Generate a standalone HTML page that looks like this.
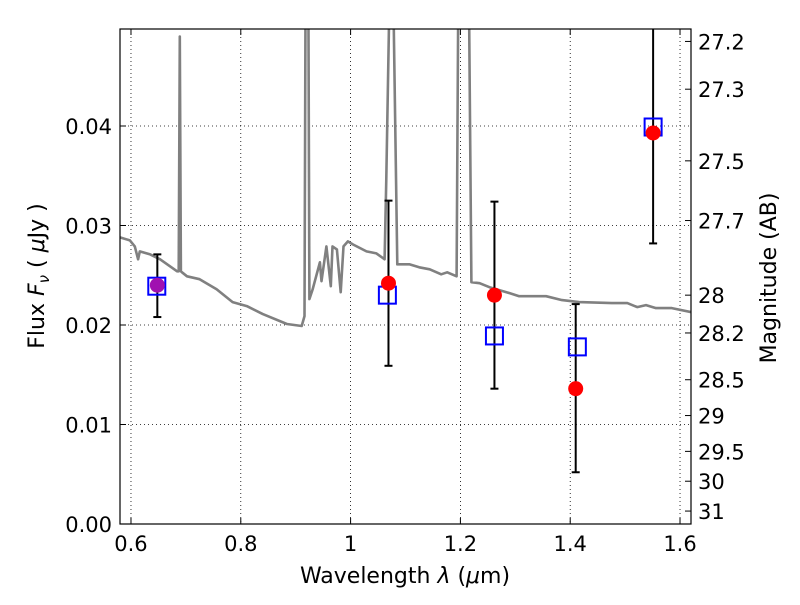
<!DOCTYPE html>
<html><head><meta charset="utf-8"><style>
html,body{margin:0;padding:0;background:#fff;}
svg text{font-family:"DejaVu Sans","Liberation Sans",sans-serif;fill:#000;}
</style></head><body>
<svg id="chart" width="800" height="600" viewBox="0 0 800 600">
<defs><clipPath id="plotclip"><rect x="120" y="29" width="571" height="495"/></clipPath></defs>
<rect x="0" y="0" width="800" height="600" fill="#fff"/>
<g id="grid"></g>
<g id="spec" clip-path="url(#plotclip)"></g>
<g id="marks"></g>
<rect x="120" y="29" width="571" height="495" fill="none" stroke="#000" stroke-width="1.2"/>
<g id="axes"></g>
<text x="405" y="583" font-size="22" text-anchor="middle">Wavelength  <tspan font-style="italic">λ</tspan> (<tspan font-style="italic">μ</tspan>m)</text>
<text transform="translate(44,276) rotate(-90)" font-size="22" text-anchor="middle">Flux  <tspan font-style="italic">F</tspan><tspan font-style="italic" font-size="15" dy="5">ν</tspan><tspan dy="-5">  (  </tspan><tspan font-style="italic">μ</tspan>Jy )</text>
<text transform="translate(776,278) rotate(-90)" font-size="22" text-anchor="middle">Magnitude (AB)</text>
</svg>
<script>
const xTicks=[0.6,0.8,1.0,1.2,1.4,1.6];
const xTickLabels=["0.6","0.8","1","1.2","1.4","1.6"];
const yTicks=[0,0.01,0.02,0.03,0.04];
const yTickLabels=["0.00","0.01","0.02","0.03","0.04"];
const magLabels=["27.2","27.3","27.5","27.7","28","28.2","28.5","29","29.5","30","31"];
const magFlux=[0.0485,0.0437,0.0365,0.0305,0.0230,0.0192,0.0145,0.0109,0.0073,0.0043,0.0013];
const bands=[0.648,1.069,1.262,1.41,1.551];
const obsFlux=[0.0240,0.0242,0.0230,0.0136,0.0393];
const errLow=[0.0208,0.0159,0.0136,0.0052,0.0282];
const errHigh=[0.0271,0.0325,0.0324,0.0221,0.0560];
const modelBands=[0.647,1.067,1.262,1.413,1.551];
const modelFlux=[0.0239,0.0230,0.0189,0.0178,0.0399];
const specWave=[0.580,0.598,0.607,0.613,0.616,0.635,0.653,0.671,0.684,0.687,0.689,0.691,0.693,0.702,0.725,0.756,0.785,0.811,0.840,0.884,0.911,0.916,0.919,0.922,0.925,0.931,0.944,0.947,0.956,0.964,0.967,0.975,0.982,0.987,0.995,1.004,1.029,1.047,1.062,1.065,1.073,1.076,1.085,1.107,1.125,1.144,1.165,1.176,1.193,1.198,1.213,1.220,1.235,1.253,1.284,1.307,1.356,1.385,1.416,1.476,1.504,1.522,1.538,1.556,1.585,1.620];
const specFlux=[0.0288,0.0285,0.0279,0.0266,0.0274,0.0271,0.0266,0.0259,0.0254,0.0254,0.0490,0.0254,0.0253,0.0249,0.0246,0.0236,0.0223,0.0219,0.0211,0.0201,0.0199,0.0209,0.0700,0.0700,0.0226,0.0236,0.0263,0.0244,0.0279,0.0239,0.0279,0.0276,0.0233,0.0279,0.0284,0.0281,0.0274,0.0272,0.0266,0.0347,0.0600,0.0600,0.0261,0.0261,0.0258,0.0256,0.0251,0.0253,0.0249,0.0700,0.0700,0.0243,0.0242,0.0238,0.0233,0.0229,0.0229,0.0225,0.0223,0.0222,0.0222,0.0218,0.0220,0.0217,0.0217,0.0213];
const X0=120,X1=691,Y0=524,Y1=29,XMIN=0.58,XMAX=1.62,YMIN=0,YMAX=0.04975;
function sx(v){return X0+(v-XMIN)/(XMAX-XMIN)*(X1-X0);}
function sy(v){return Y0-(v-YMIN)/(YMAX-YMIN)*(Y0-Y1);}
const NS="http://www.w3.org/2000/svg";
function mk(tag,attrs,parent){const e=document.createElementNS(NS,tag);for(const k in attrs)e.setAttribute(k,attrs[k]);parent.appendChild(e);return e;}
const grid=document.getElementById('grid'),axes=document.getElementById('axes'),spec=document.getElementById('spec'),marks=document.getElementById('marks');
xTicks.forEach((t,i)=>{const x=sx(t);
 let g=mk('line',{x1:x,x2:x,y1:Y1,y2:Y0,stroke:'#000','stroke-width':0.8,'stroke-dasharray':'1,3'},grid);
 
 
 mk('line',{x1:x,x2:x,y1:Y0,y2:Y0-6,stroke:'#000','stroke-width':1},axes);
 mk('line',{x1:x,x2:x,y1:Y1,y2:Y1+6,stroke:'#000','stroke-width':1},axes);
 let tx=mk('text',{x:x,y:551,'font-size':21,'text-anchor':'middle'},axes);tx.textContent=xTickLabels[i];
 
 
});
yTicks.forEach((t,i)=>{const y=sy(t);
 let g=mk('line',{x1:X0,x2:X1,y1:y,y2:y,stroke:'#000','stroke-width':0.8,'stroke-dasharray':'1,3'},grid);
 
 
 mk('line',{x1:X0,x2:X0+6,y1:y,y2:y,stroke:'#000','stroke-width':1},axes);
 let tx=mk('text',{x:112,y:y+8,'font-size':21,'text-anchor':'end'},axes);tx.textContent=yTickLabels[i];
 
 
});
magFlux.forEach((f,i)=>{const y=sy(f);
 mk('line',{x1:X1,x2:X1-6,y1:y,y2:y,stroke:'#000','stroke-width':1},axes);
 let tx=mk('text',{x:698,y:y+8,'font-size':21,'text-anchor':'start'},axes);tx.textContent=magLabels[i];
 
 
});
let d=specWave.map((w,i)=>(i?'L':'M')+sx(w).toFixed(1)+','+sy(specFlux[i]).toFixed(1)).join(' ');
let p=mk('path',{d:d,fill:'none',stroke:'#808080','stroke-width':2.6,'stroke-linejoin':'round'},spec);


const mclip=document.createElementNS(NS,'g');mclip.setAttribute('clip-path','url(#plotclip)');marks.appendChild(mclip);
bands.forEach((b,i)=>{const x=sx(b);
 let e=mk('line',{x1:x,x2:x,y1:sy(errLow[i]),y2:sy(errHigh[i]),stroke:'#000','stroke-width':2},mclip);
 
 
 [errLow[i],errHigh[i]].forEach(v=>{mk('line',{x1:x-4,x2:x+4,y1:sy(v),y2:sy(v),stroke:'#000','stroke-width':2},mclip);});
});
modelBands.forEach((b,i)=>{
 let r=mk('rect',{x:sx(b)-8.5,y:sy(modelFlux[i])-8.5,width:17,height:17,fill:'none',stroke:'#0000ff','stroke-width':2},marks);
 
 
});
bands.forEach((b,i)=>{
 let c=mk('circle',{cx:sx(b),cy:sy(obsFlux[i]),r:7.5,fill:i===0?'#a010b0':'#ff0000'},marks);
 
 
});
</script>
</body></html>
